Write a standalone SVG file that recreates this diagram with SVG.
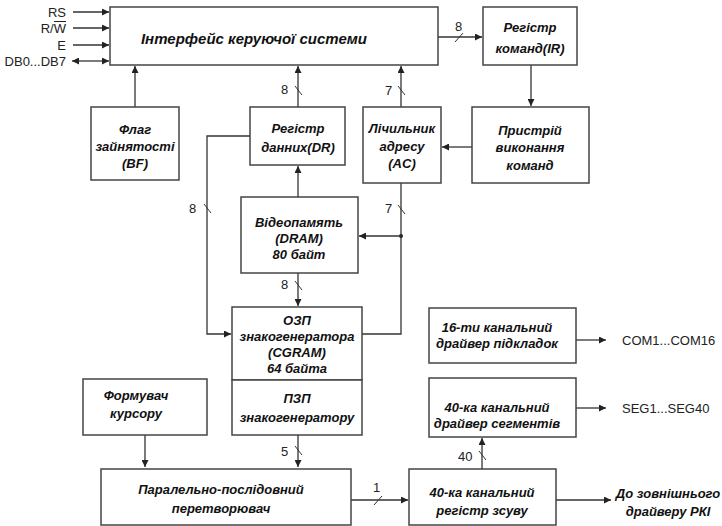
<svg xmlns="http://www.w3.org/2000/svg" width="722" height="526" viewBox="0 0 722 526">
<defs>
<marker id="ah" viewBox="0 0 10 10" refX="10" refY="5" markerWidth="9" markerHeight="7" markerUnits="userSpaceOnUse" orient="auto-start-reverse">
<path d="M0,0 L10,5 L0,10 z" fill="#222"/>
</marker>
<style>
.box{fill:#fff;stroke:#444;stroke-width:1.5}
.w{fill:none;stroke:#333;stroke-width:1.3}
.a{fill:none;stroke:#333;stroke-width:1.3;marker-end:url(#ah)}
.s{stroke:#333;stroke-width:1}
.t{font-family:"Liberation Sans",Arial,sans-serif;font-weight:bold;font-style:italic;font-size:13px;fill:#111;text-anchor:middle;dominant-baseline:central}
.big{font-size:15px}
.l{font-family:"Liberation Sans",Arial,sans-serif;font-size:13px;fill:#222;dominant-baseline:central}
.r{text-anchor:end}
</style>
</defs>
<rect width="722" height="526" fill="#fff"/>

<g id="connectors">
<line class="a" x1="73" y1="12" x2="109" y2="12"/>
<line class="a" x1="73" y1="28" x2="109" y2="28"/>
<line class="a" x1="73" y1="45" x2="109" y2="45"/>
<line class="a" x1="92" y1="61" x2="109" y2="61"/>
<line class="a" x1="92" y1="61" x2="72" y2="61"/>
<line class="a" x1="438" y1="37" x2="482" y2="37"/>
<line class="s" x1="455" y1="42" x2="463" y2="33"/>
<line class="a" x1="531" y1="65" x2="531" y2="106"/>
<line class="a" x1="472" y1="147" x2="442" y2="147"/>
<line class="a" x1="135" y1="107" x2="135" y2="66"/>
<line class="a" x1="298" y1="107" x2="298" y2="66"/>
<line class="s" x1="295" y1="86" x2="302" y2="95"/>
<line class="a" x1="401" y1="107" x2="401" y2="66"/>
<line class="s" x1="398" y1="86" x2="405" y2="95"/>
<line class="a" x1="298" y1="197" x2="298" y2="166"/>
<polyline class="w" points="401,183 401,334 362,334"/>
<line class="s" x1="398" y1="205" x2="405" y2="214"/>
<circle cx="401" cy="236" r="2" fill="#222"/>
<line class="a" x1="401" y1="236" x2="359" y2="236"/>
<polyline class="a" points="250,136 207,136 207,334 231,334"/>
<line class="s" x1="204" y1="204" x2="211" y2="213"/>
<line class="a" x1="298" y1="273" x2="298" y2="306"/>
<line class="s" x1="295" y1="281" x2="302" y2="290"/>
<line class="a" x1="145" y1="435" x2="145" y2="467"/>
<line class="a" x1="298" y1="435" x2="298" y2="467"/>
<line class="s" x1="295" y1="446" x2="302" y2="455"/>
<line class="a" x1="351" y1="500" x2="408" y2="500"/>
<line class="s" x1="374" y1="505" x2="382" y2="496"/>
<line class="a" x1="482" y1="469" x2="482" y2="438"/>
<line class="s" x1="479" y1="451" x2="486" y2="460"/>
<line class="a" x1="556" y1="500" x2="611" y2="500"/>
<line class="a" x1="576" y1="408" x2="606" y2="408"/>
<line class="a" x1="576" y1="340" x2="606" y2="340"/>
</g>

<g id="signals">
<text class="l r" x="66" y="12">RS</text>
<text class="l r" x="66" y="28">R/W</text>
<line x1="54" y1="21.5" x2="66" y2="21.5" stroke="#222" stroke-width="1"/>
<text class="l r" x="66" y="45">E</text>
<text class="l r" x="66" y="61">DB0...DB7</text>
<text class="l" x="455" y="26">8</text>
<text class="l" x="281" y="89">8</text>
<text class="l" x="385" y="90">7</text>
<text class="l" x="189" y="208">8</text>
<text class="l" x="385" y="208">7</text>
<text class="l" x="281" y="284">8</text>
<text class="l" x="281" y="451">5</text>
<text class="l" x="373" y="487">1</text>
<text class="l" x="458" y="456">40</text>
<text class="l" x="622" y="340">COM1...COM16</text>
<text class="l" x="622" y="408">SEG1...SEG40</text>
<text class="t" x="668" y="493">До зовнішнього</text>
<text class="t" x="668" y="511">драйверу РКІ</text>
</g>

<g id="interface">
<rect class="box" x="110" y="7" width="328" height="58"/>
<text class="t big" x="254" y="38">Інтерфейс керуючої системи</text>
</g>
<g id="ir">
<rect class="box" x="483" y="7" width="94" height="58"/>
<text class="t" x="530" y="27">Регістр</text>
<text class="t" x="530" y="48">команд(IR)</text>
</g>
<g id="executor">
<rect class="box" x="472" y="107" width="117" height="76"/>
<text class="t" x="530" y="130">Пристрій</text>
<text class="t" x="530" y="147">виконання</text>
<text class="t" x="530" y="165">команд</text>
</g>
<g id="bf">
<rect class="box" x="91" y="107" width="88" height="73"/>
<text class="t" x="135" y="129">Флаг</text>
<text class="t" x="135" y="146">зайнятості</text>
<text class="t" x="135" y="163">(BF)</text>
</g>
<g id="dr">
<rect class="box" x="250" y="107" width="95" height="58"/>
<text class="t" x="298" y="128">Регістр</text>
<text class="t" x="298" y="147">данних(DR)</text>
</g>
<g id="ac">
<rect class="box" x="363" y="107" width="78" height="76"/>
<text class="t" x="402" y="128">Лічильник</text>
<text class="t" x="402" y="146">адресу</text>
<text class="t" x="402" y="163">(AC)</text>
</g>
<g id="dram">
<rect class="box" x="241" y="197" width="117" height="76"/>
<text class="t" x="299" y="222">Відеопамять</text>
<text class="t" x="299" y="238">(DRAM)</text>
<text class="t" x="299" y="254">80 байт</text>
</g>
<g id="cgram">
<rect class="box" x="232" y="307" width="130" height="73"/>
<text class="t" x="297" y="320">ОЗП</text>
<text class="t" x="297" y="336">знакогенератора</text>
<text class="t" x="297" y="352">(CGRAM)</text>
<text class="t" x="297" y="368">64  байта</text>
</g>
<g id="cgrom">
<rect class="box" x="232" y="380" width="130" height="55"/>
<text class="t" x="297" y="398">ПЗП</text>
<text class="t" x="297" y="417">знакогенератору</text>
</g>
<g id="cursor">
<rect class="box" x="83" y="379" width="124" height="56"/>
<text class="t" x="136" y="395">Формувач</text>
<text class="t" x="136" y="413">курсору</text>
</g>
<g id="converter">
<rect class="box" x="101" y="469" width="250" height="56"/>
<text class="t" x="221" y="489">Паралельно-послідовний</text>
<text class="t" x="221" y="508">перетворювач</text>
</g>
<g id="shiftreg">
<rect class="box" x="409" y="469" width="147" height="56"/>
<text class="t" x="482" y="492">40-ка канальний</text>
<text class="t" x="482" y="510">регістр зсуву</text>
</g>
<g id="comdriver">
<rect class="box" x="429" y="308" width="147" height="55"/>
<text class="t" x="497" y="327">16-ти канальний</text>
<text class="t" x="497" y="343">драйвер підкладок</text>
</g>
<g id="segdriver">
<rect class="box" x="429" y="378" width="147" height="59"/>
<text class="t" x="497" y="407">40-ка канальний</text>
<text class="t" x="497" y="423">драйвер сегментів</text>
</g>
</svg>
